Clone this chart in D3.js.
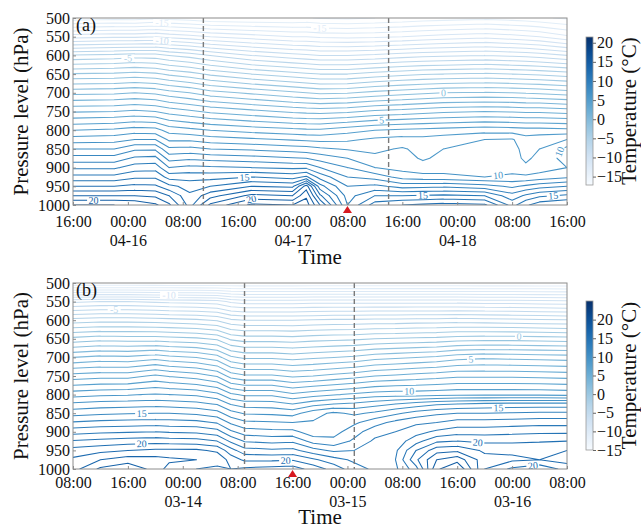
<!DOCTYPE html>
<html>
<head>
<meta charset="utf-8">
<script src="https://cdn.jsdelivr.net/npm/d3@7"></script>
<style>
  body { margin: 0; background: #fff; }
  svg { display: block; }
  text { font-family: "Liberation Serif", "Times New Roman", serif; fill: #111; }
</style>
</head>
<body>
<svg id="fig" width="641" height="529"></svg>
<script>
// ---- data -------------------------------------------------------------
// Pressure levels of every profile (hPa), top to bottom.
const pressureLevels = [500, 550, 600, 650, 700, 750, 800, 825, 850, 875, 900, 925, 950, 975, 1000];
const pressureTicks = [500, 550, 600, 650, 700, 750, 800, 850, 900, 950, 1000];
const colorbarTicks = [-15, -10, -5, 0, 5, 10, 15, 20];

// (a) hours since 2023-04-15 16:00, with one temperature profile (°C) per hour
const startA = "2023-04-15T16:00:00Z";
const hoursA = [0, 6, 9, 12, 14, 17, 20, 26, 32, 34, 36, 40, 44, 48, 51, 54, 60, 64, 66, 68, 72];
const tempA = [
  [-16.6, -11.4, -5.9, -1.9,  1.7, 4.9, 8.0,  9.5, 11.0, 12.4, 13.8, 15.3, 17.0, 19.0, 21.0],
  [-16.4, -11.2, -5.7, -1.8,  1.8, 5.0, 8.2,  9.6, 11.0, 12.4, 13.8, 15.3, 17.0, 19.0, 21.0],
  [-16.5, -11.2, -5.5, -1.6,  2.0, 5.2, 8.5, 10.0, 11.8, 13.2, 14.5, 15.8, 17.3, 19.0, 20.8],
  [-16.2, -11.0, -5.6, -1.8,  1.8, 5.0, 8.4, 10.0, 11.8, 13.3, 14.6, 15.8, 17.2, 18.8, 20.2],
  [-16.4, -11.3, -6.0, -2.2,  1.4, 4.6, 7.6,  8.8, 10.2, 11.6, 13.0, 14.6, 16.3, 18.0, 19.2],
  [-16.6, -11.6, -6.4, -2.6,  1.0, 4.2, 7.3,  8.8, 10.3, 11.8, 13.3, 14.6, 15.6, 16.2, 16.6],
  [-16.9, -12.0, -7.0, -3.2,  0.4, 3.8, 7.0,  8.5, 10.0, 11.6, 13.2, 14.6, 16.0, 17.6, 19.2],
  [-17.0, -12.5, -8.0, -4.0, -0.2, 3.3, 6.6,  8.2,  9.8, 11.4, 13.0, 15.0, 17.0, 19.3, 21.2],
  [-17.0, -13.0, -8.6, -4.6, -0.8, 2.8, 6.3,  7.9,  9.5, 11.1, 12.8, 14.6, 16.8, 19.0, 21.0],
  [-16.9, -13.0, -8.8, -4.8, -1.0, 2.7, 6.2,  7.8,  9.4, 11.0, 12.8, 15.2, 19.5, 20.8, 21.5],
  [-17.1, -13.2, -9.0, -5.0, -1.2, 2.6, 6.2,  7.7,  9.2, 10.6, 12.0, 13.6, 15.4, 17.2, 19.0],
  [-17.2, -13.3, -9.0, -5.0, -1.1, 2.8, 6.6,  7.8,  8.9, 10.0, 11.0, 12.0, 13.0, 13.6, 14.0],
  [-17.0, -13.2, -8.8, -4.6, -0.7, 3.2, 7.0,  8.2,  8.8,  9.2, 10.0, 11.6, 13.3, 15.0, 16.5],
  [-16.8, -13.0, -8.5, -4.3, -0.4, 3.4, 7.2,  8.4,  9.1,  9.3,  9.6, 10.6, 12.6, 15.0, 17.0],
  [-16.6, -12.8, -8.3, -4.1, -0.2, 3.6, 7.3,  8.3,  8.7,  8.9,  9.3, 10.4, 12.7, 15.1, 17.2],
  [-16.5, -12.6, -8.2, -4.0,  0.0, 3.8, 7.4,  8.5,  9.0,  9.2,  9.5, 10.3, 12.8, 15.2, 17.4],
  [-16.3, -12.3, -8.0, -3.8,  0.1, 4.0, 7.6,  9.0,  9.3,  9.4,  9.6, 10.0, 12.4, 15.0, 17.2],
  [-16.5, -12.6, -8.2, -4.0,  0.0, 3.9, 7.5,  9.1,  9.4,  9.4,  9.6, 10.2, 11.8, 13.4, 14.6],
  [-16.6, -12.8, -8.3, -4.1, -0.1, 3.8, 7.4,  8.4,  8.6,  8.8,  9.2, 10.2, 12.2, 14.2, 15.8],
  [-16.8, -13.0, -8.5, -4.2, -0.2, 3.8, 7.4,  8.6,  9.0,  9.3,  9.5, 10.4, 12.6, 14.8, 16.6],
  [-17.2, -13.8, -9.0, -4.5, -0.5, 3.6, 7.3,  9.0, 10.3, 10.4, 10.0, 10.8, 13.0, 15.2, 17.0]
];

// (b) hours since 2023-03-13 08:00
const startB = "2023-03-13T08:00:00Z";
const hoursB = [0, 4, 8, 12, 14, 18, 21, 23, 25, 29, 32, 35, 38, 41, 44, 47, 50, 53, 56, 60, 64, 68, 72];
const tempB = [
  [-15.0, -7.2, -2.6,  1.3, 5.0, 8.4, 11.6, 13.2, 14.6, 16.1, 17.6, 19.1, 20.4, 21.2, 21.6],
  [-15.0, -7.0, -2.4,  1.6, 5.3, 8.6, 11.8, 13.4, 14.8, 16.3, 17.8, 19.3, 20.7, 22.0, 23.2],
  [-15.0, -7.0, -2.4,  1.5, 5.2, 8.6, 11.9, 13.5, 14.9, 16.4, 17.9, 19.5, 21.0, 22.5, 23.8],
  [-15.0, -7.2, -2.5,  1.5, 5.6, 9.2, 12.1, 13.6, 15.0, 16.5, 18.0, 19.6, 21.2, 22.4, 22.6],
  [-15.0, -7.3, -2.6,  1.4, 5.3, 8.9, 12.0, 13.5, 15.0, 16.4, 17.9, 19.5, 21.2, 22.2, 21.6],
  [-15.0, -7.4, -2.8,  1.2, 5.0, 8.5, 11.8, 13.3, 14.8, 16.3, 17.8, 19.4, 21.2, 22.0, 21.0],
  [-15.0, -7.6, -3.1,  0.8, 4.4, 7.9, 11.3, 12.9, 14.4, 15.9, 17.4, 19.0, 20.8, 21.8, 20.6],
  [-15.0, -8.2, -3.8, -0.2, 3.2, 6.6, 10.2, 11.9, 13.4, 14.8, 16.2, 17.8, 19.4, 20.6, 21.0],
  [-15.0, -8.5, -4.0, -0.5, 2.8, 6.2,  9.8, 11.5, 12.9, 14.2, 15.5, 16.9, 18.4, 19.8, 21.2],
  [-15.0, -8.5, -4.0, -0.5, 2.8, 6.2,  9.8, 11.4, 12.8, 14.1, 15.3, 16.7, 18.2, 19.8, 21.4],
  [-15.0, -8.5, -4.0, -0.6, 2.6, 5.8,  9.2, 11.0, 12.6, 14.0, 15.3, 16.8, 18.3, 19.9, 21.5],
  [-15.0, -8.4, -3.9, -0.4, 2.8, 6.0,  9.6, 11.6, 13.6, 14.1, 14.4, 15.6, 17.4, 19.2, 20.6],
  [-15.0, -8.4, -3.8, -0.3, 3.0, 6.3,  9.9, 12.0, 14.2, 14.0, 14.6, 15.3, 16.8, 18.4, 19.6],
  [-15.0, -8.4, -3.8, -0.2, 3.2, 6.6, 10.2, 12.2, 13.8, 14.8, 15.6, 16.2, 17.0, 17.8, 18.4],
  [-15.0, -8.4, -3.7,  0.0, 3.6, 7.0, 10.5, 12.6, 14.2, 15.6, 16.6, 17.2, 17.6, 17.9, 17.8],
  [-15.0, -8.4, -3.7,  0.1, 3.8, 7.2, 10.6, 13.0, 14.8, 16.3, 17.0, 17.4, 17.8, 18.0, 17.8],
  [-15.0, -8.4, -3.6,  0.2, 4.0, 7.4, 10.6, 13.4, 15.4, 16.8, 17.6, 18.6, 20.0, 20.8, 19.6],
  [-15.0, -8.4, -3.6,  0.3, 4.2, 7.6, 10.7, 13.8, 15.8, 17.0, 18.2, 19.8, 21.6, 23.0, 23.8],
  [-15.0, -8.4, -3.5,  0.5, 4.6, 7.8, 10.8, 14.0, 16.0, 17.4, 18.6, 20.0, 21.8, 23.6, 25.0],
  [-15.0, -8.5, -3.6,  0.6, 4.8, 7.8, 10.8, 14.2, 16.0, 17.4, 18.6, 19.8, 20.8, 21.4, 21.0],
  [-15.0, -8.5, -3.7,  0.6, 4.7, 7.8, 10.8, 14.3, 16.1, 17.5, 18.7, 19.8, 20.8, 21.2, 19.8],
  [-15.0, -8.6, -3.8,  0.5, 4.6, 7.7, 10.8, 14.3, 16.2, 17.6, 18.8, 19.9, 20.8, 21.0, 19.2],
  [-15.0, -8.7, -3.9,  0.4, 4.5, 7.6, 10.7, 14.3, 16.2, 17.6, 18.8, 20.0, 21.0, 21.4, 20.4]
];

// Event markers (hours from each start): dashed period bounds and the triangle
const dashedA = [19, 46];
const dashedB = [25, 41];
const markerA = 40;
const markerB = 32;

// Inline contour labels: [level, hour, hPa] near which the label sits
const labelsA = [[-15, 13, 508], [-15, 36, 530], [-10, 13, 560], [-5, 8, 607], [0, 54, 698],
                 [5, 45, 778], [10, 62, 927], [10, 71, 858], [15, 25, 925], [15, 51, 971],
                 [15, 70, 976], [20, 3, 989], [20, 26, 985]];
const labelsB = [[-10, 14, 531], [-5, 6, 570], [0, 65, 641], [5, 58, 704], [10, 49, 789],
                 [15, 10, 853], [15, 62, 832], [20, 10, 932], [20, 31, 982], [20, 59, 930],
                 [20, 67, 988]];

// ---- drawing ----------------------------------------------------------
const svg = d3.select("#fig");
const font = '"Liberation Serif", "Times New Roman", serif';

// Marching squares on a rectilinear (hour, hPa) grid -> line segments
function isolines(hours, levels, field, c) {
  const segs = [];
  const up = v => v >= c;
  const lerp = (a, b, va, vb) => a + (c - va) / (vb - va) * (b - a);
  for (let i = 0; i < hours.length - 1; i++) {
    for (let j = 0; j < levels.length - 1; j++) {
      const v00 = field[i][j], v10 = field[i + 1][j], v11 = field[i + 1][j + 1], v01 = field[i][j + 1];
      const t0 = hours[i], t1 = hours[i + 1], p0 = levels[j], p1 = levels[j + 1];
      const pts = {};
      if (up(v00) !== up(v10)) pts.top = [lerp(t0, t1, v00, v10), p0];
      if (up(v10) !== up(v11)) pts.right = [t1, lerp(p0, p1, v10, v11)];
      if (up(v01) !== up(v11)) pts.bottom = [lerp(t0, t1, v01, v11), p1];
      if (up(v00) !== up(v01)) pts.left = [t0, lerp(p0, p1, v00, v01)];
      const k = Object.keys(pts);
      if (k.length === 2) segs.push([pts[k[0]], pts[k[1]]]);
      else if (k.length === 4) {
        const mid = (v00 + v10 + v11 + v01) / 4;
        if (up(mid) === up(v00)) segs.push([pts.top, pts.right], [pts.bottom, pts.left]);
        else segs.push([pts.top, pts.left], [pts.right, pts.bottom]);
      }
    }
  }
  return segs;
}

function panel(cfg) {
  const { x0, x1, y0, y1, start, hours, field, dashed, marker, labels, tag,
          cb, tickPad, timeTitleY } = cfg;
  const t0 = new Date(start);
  const toDate = h => new Date(t0.getTime() + h * 3600e3);
  const x = d3.scaleUtc().domain([toDate(0), toDate(72)]).range([x0, x1]);
  const y = d3.scaleLinear().domain([500, 1000]).range([y0, y1]);
  const xh = h => x(toDate(h));

  const flat = field.flat();
  const vmin = d3.min(flat), vmax = d3.max(flat);
  const cbColor = d3.scaleSequential(d3.interpolateBlues).domain([vmin, vmax]);
  const lineColor = v => d3.interpolateBlues(0.08 + 0.77 * (v - vmin) / (vmax - vmin));

  const g = svg.append("g");
  const clipId = "clip-" + tag;
  g.append("clipPath").attr("id", clipId)
    .append("rect").attr("x", x0).attr("y", y0).attr("width", x1 - x0).attr("height", y1 - y0);

  const plot = g.append("g").attr("clip-path", `url(#${clipId})`);
  const levels = d3.range(Math.ceil(vmin), Math.floor(vmax) + 1);
  const segsByLevel = new Map();
  levels.forEach(c => {
    const segs = isolines(hours, pressureLevels, field, c)
      .map(s => s.map(([h, p]) => [xh(h), y(p)]));
    segsByLevel.set(c, segs);
    plot.append("path")
      .attr("d", segs.map(s => `M${s[0][0]},${s[0][1]}L${s[1][0]},${s[1][1]}`).join(""))
      .attr("fill", "none")
      .attr("stroke", lineColor(c))
      .attr("stroke-width", 1.05)
      .attr("stroke-linecap", "round")
      .attr("stroke-linejoin", "round");
  });

  // inline labels placed on the nearest point of their contour
  labels.forEach(([c, h, p]) => {
    const segs = segsByLevel.get(c);
    if (!segs || !segs.length) return;
    const tx = xh(h), ty = y(p);
    let best = null;
    segs.forEach(([a, b]) => {
      const dx = b[0] - a[0], dy = b[1] - a[1];
      const L2 = dx * dx + dy * dy || 1e-9;
      let u = ((tx - a[0]) * dx + (ty - a[1]) * dy) / L2;
      u = Math.max(0, Math.min(1, u));
      const px = a[0] + u * dx, py = a[1] + u * dy;
      const d = (px - tx) ** 2 + (py - ty) ** 2;
      if (!best || d < best.d) best = { d, px, py, ang: Math.atan2(dy, dx) * 180 / Math.PI };
    });
    let ang = best.ang;
    if (ang > 90) ang -= 180;
    if (ang < -90) ang += 180;
    const txt = String(c);
    const w = txt.length * 5 + 3;
    const lg = plot.append("g").attr("transform", `translate(${best.px},${best.py}) rotate(${ang})`);
    lg.append("rect").attr("x", -w / 2).attr("y", -3.2).attr("width", w).attr("height", 6.4).attr("fill", "#fff");
    lg.append("text").attr("text-anchor", "middle").attr("dy", "0.34em")
      .style("font-size", "10px").style("fill", lineColor(c)).text(txt);
  });

  // dashed period bounds
  dashed.forEach(h => {
    g.append("line").attr("x1", xh(h)).attr("x2", xh(h)).attr("y1", y0).attr("y2", y1)
      .attr("stroke", "#7a7a7a").attr("stroke-width", 1.4).attr("stroke-dasharray", "5,3");
  });

  // frame
  g.append("rect").attr("x", x0).attr("y", y0).attr("width", x1 - x0).attr("height", y1 - y0)
    .attr("fill", "none").attr("stroke", "#8c8c8c").attr("stroke-width", 1);

  // y axis
  const ya = g.append("g").attr("transform", `translate(${x0},0)`)
    .call(d3.axisLeft(y).tickValues(pressureTicks).tickSize(-3).tickPadding(3).tickFormat(d3.format("d")));
  ya.select(".domain").remove();
  ya.selectAll(".tick line").attr("stroke", "#8c8c8c");
  ya.selectAll(".tick text").style("font-family", font).style("font-size", "16px").style("fill", "#111");

  // x axis (every 8 h), with the date under midnight ticks
  const xa = g.append("g").attr("transform", `translate(0,${y1})`)
    .call(d3.axisBottom(x).ticks(d3.utcHour.every(8)).tickSize(-3).tickPadding(tickPad).tickFormat(d3.utcFormat("%H:%M")));
  xa.select(".domain").remove();
  xa.selectAll(".tick line").attr("stroke", "#8c8c8c");
  xa.selectAll(".tick text").style("font-family", font).style("font-size", "16px").style("fill", "#111")
    .each(function (d) {
      if (d.getUTCHours() === 0) {
        d3.select(this).append("tspan").attr("x", 0).attr("dy", "1.15em").text(d3.utcFormat("%m-%d")(d));
      }
    });

  // marker triangle
  const mx = xh(marker);
  g.append("path")
    .attr("d", `M${mx},${y1 + 1}L${mx + 4.5},${y1 + 8}L${mx - 4.5},${y1 + 8}Z`)
    .attr("fill", "#d71920");

  // titles
  g.append("text").attr("x", (x0 + x1) / 2).attr("y", timeTitleY).attr("text-anchor", "middle")
    .style("font-size", "21px").text("Time");
  g.append("text").attr("transform", `translate(28,${(y0 + y1) / 2}) rotate(-90)`)
    .attr("text-anchor", "middle").style("font-size", "21px").text("Pressure level (hPa)");
  g.append("text").attr("x", x0 + 3).attr("y", y0 + 13).style("font-size", "18px").text(`(${tag})`);

  // colorbar
  const cy = d3.scaleLinear().domain([vmin, vmax]).range([cb.y1, cb.y0]);
  const gradId = "grad-" + tag;
  const grad = svg.append("defs").append("linearGradient").attr("id", gradId)
    .attr("x1", 0).attr("x2", 0).attr("y1", 1).attr("y2", 0);
  d3.range(0, 1.0001, 0.1).forEach(f => {
    grad.append("stop").attr("offset", f).attr("stop-color", cbColor(vmin + f * (vmax - vmin)));
  });
  g.append("rect").attr("x", cb.x).attr("y", cb.y0).attr("width", cb.w).attr("height", cb.y1 - cb.y0)
    .attr("fill", `url(#${gradId})`).attr("stroke", "#9a9a9a").attr("stroke-width", 0.8);
  const ca = g.append("g").attr("transform", `translate(${cb.x + cb.w},0)`)
    .call(d3.axisRight(cy).tickValues(colorbarTicks).tickSize(3).tickPadding(1).tickFormat(d3.format("d")));
  ca.select(".domain").remove();
  ca.selectAll(".tick line").attr("stroke", "#666");
  ca.selectAll(".tick text").style("font-family", font).style("font-size", "16px").style("fill", "#111");
  g.append("text").attr("transform", `translate(636,${(cb.y0 + cb.y1) / 2}) rotate(-90)`)
    .attr("text-anchor", "middle").style("font-size", "21px").text("Temperature (°C)");
}

panel({ x0: 73, x1: 567, y0: 18, y1: 205, start: startA, hours: hoursA, field: tempA,
        dashed: dashedA, marker: markerA, labels: labelsA, tag: "a",
        cb: { x: 586, w: 7, y0: 37, y1: 185 }, tickPad: 11, timeTitleY: 264 });
panel({ x0: 73, x1: 567, y0: 283, y1: 469, start: startB, hours: hoursB, field: tempB,
        dashed: dashedB, marker: markerB, labels: labelsB, tag: "b",
        cb: { x: 586, w: 7, y0: 301, y1: 450 }, tickPad: 8, timeTitleY: 524 });
</script>
</body>
</html>
